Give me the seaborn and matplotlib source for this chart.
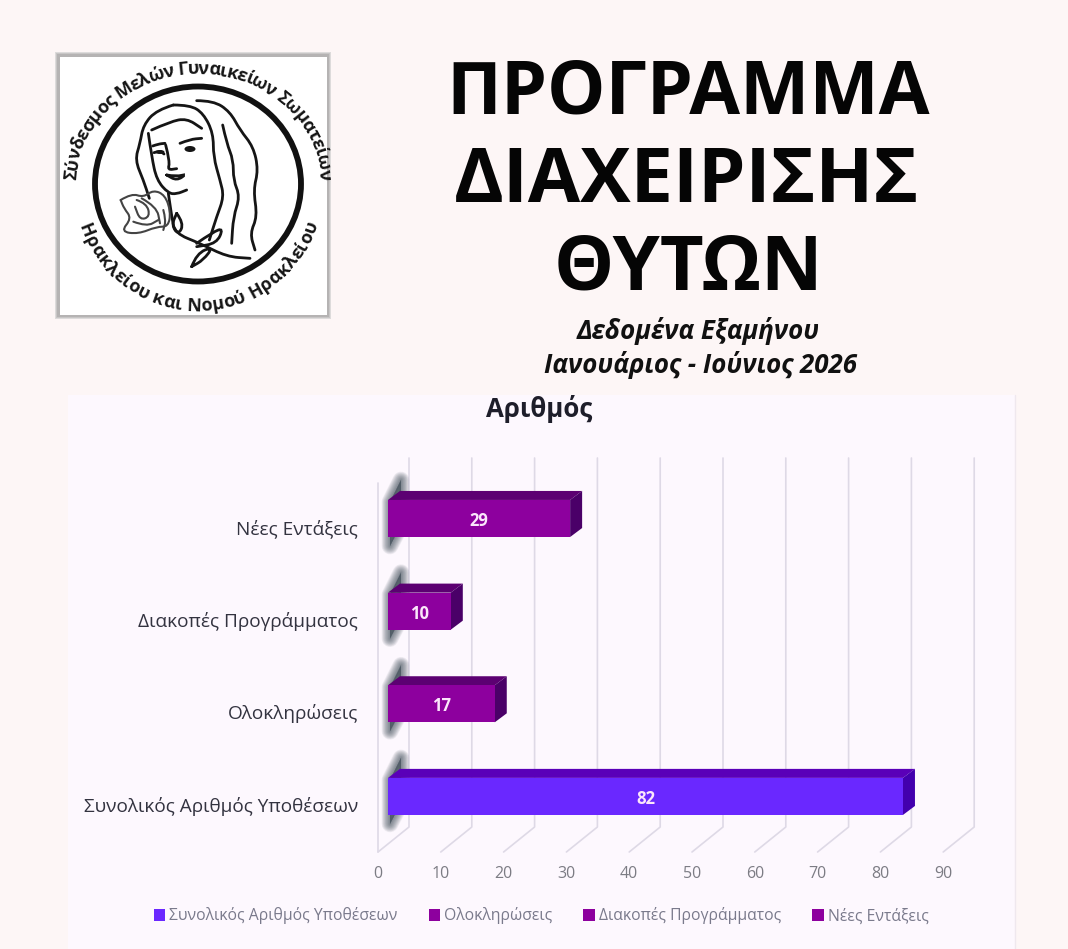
import matplotlib
matplotlib.use("Agg")
import numpy as np
import pandas as pd
import seaborn as sns
import matplotlib.pyplot as plt
from matplotlib.path import Path
from matplotlib.patches import PathPatch, Polygon, Rectangle, Ellipse, Patch
from matplotlib.font_manager import FontProperties
from matplotlib.textpath import TextToPath
from matplotlib.transforms import Affine2D

# Chart data
categories = ["Νέες Εντάξεις", "Διακοπές Προγράμματος", "Ολοκληρώσεις", "Συνολικός Αριθμός Υποθέσεων"]
values = [29, 10, 17, 82]
front_colors = ["#8D009E", "#8D009E", "#8D009E", "#6A28FF"]
top_colors = ["#5C0072", "#5C0072", "#5C0072", "#5A00B8"]
side_colors = ["#4A0068", "#4A0068", "#4A0068", "#4300AE"]
legend_order = ["Συνολικός Αριθμός Υποθέσεων", "Ολοκληρώσεις", "Διακοπές Προγράμματος", "Νέες Εντάξεις"]
x_ticks = [0, 10, 20, 30, 40, 50, 60, 70, 80, 90]
title_lines = ["ΠΡΟΓΡΑΜΜΑ", "ΔΙΑΧΕΙΡΙΣΗΣ", "ΘΥΤΩΝ"]
subtitle_lines = ["Δεδομένα Εξαμήνου", "Ιανουάριος - Ιούνιος 2026"]
chart_title = "Αριθμός"
ring_top = "Σύνδεσμος Μελών Γυναικείων Σωματείων"
ring_bottom = "Ηρακλείου και Νομού Ηρακλείου"

W, H = 1068, 949
PAGE = "#FDF6F6"
PANEL = "#FDF8FE"
GRID = "#DED9E6"

sns.set_theme(style="white")
plt.rcParams["font.family"] = ["Open Sans", "DejaVu Sans"]

fig = plt.figure(figsize=(W / 100, H / 100), dpi=100, facecolor=PAGE)

# Full-page layer in pixel units for the header, logo and panel
bg = fig.add_axes([0, 0, 1, 1], zorder=0)
bg.set_xlim(0, W)
bg.set_ylim(H, 0)
bg.axis("off")
bg.add_patch(Rectangle((68, 395), 947, 554, fc=PANEL, ec="none"))
bg.plot([1015, 1015], [395, 949], color="#EFE8EE", lw=1)

for line, cx, cy, size in zip(title_lines, [688, 686, 688], [94, 182, 270], [53, 54.5, 54.5]):
    bg.text(cx, cy, line, fontsize=size, fontweight="bold", color="#050505", ha="center", va="center")
for line, cx, cy in zip(subtitle_lines, [698, 701], [331, 365]):
    bg.text(cx, cy, line, fontsize=18.6, fontweight="bold", fontstyle="italic",
            color="#111111", ha="center", va="center")
bg.text(539, 409, chart_title, fontsize=18.6, fontweight="bold", color="#1E1E2A", ha="center", va="center")

# Logo card with a soft edge
for pad, shade in ((3, "#DDDBDB"), (2, "#C8C6C6"), (1, "#B5B3B3")):
    bg.add_patch(Rectangle((58 - pad, 55 - pad), 270 + 2 * pad, 261 + 2 * pad, fc=shade, ec="none"))
bg.add_patch(Rectangle((60, 57), 267, 258, fc="white", ec="none"))
LOGO_CX, LOGO_CY = 198, 184
bg.add_patch(Ellipse((LOGO_CX, LOGO_CY), 206, 195, fc="none", ec="#111111", lw=4.2))


def smooth(points, lw=2.0, color="#151515"):
    """Stroke a rounded curve through points given in logo sketch units."""
    pts = [(x / 3, y / 3 + 30) for x, y in points]
    verts, codes = [pts[0]], [Path.MOVETO]
    for a, b in zip(pts[1:-1], pts[2:]):
        verts += [a, ((a[0] + b[0]) / 2, (a[1] + b[1]) / 2)]
        codes += [Path.CURVE3, Path.CURVE3]
    verts.append(pts[-1])
    codes.append(Path.LINETO)
    bg.add_patch(PathPatch(Path(verts, codes), fc="none", ec=color, lw=lw, capstyle="round"))


# Portrait line work
strokes = [
    [(520, 225), (470, 240), (430, 285), (420, 340), (405, 390), (430, 450), (448, 505)],
    [(520, 225), (570, 225), (610, 250), (640, 310), (640, 380), (660, 450), (672, 500), (650, 560), (628, 630)],
    [(590, 212), (640, 212), (690, 245), (720, 300), (760, 350), (775, 420), (760, 480), (772, 560), (750, 610), (765, 660)],
    [(668, 285), (680, 340), (700, 390), (700, 450), (720, 500), (700, 560), (695, 640)],
    [(455, 300), (510, 275), (560, 265), (605, 295)],
    [(445, 310), (455, 380), (470, 450), (505, 490), (530, 492), (560, 480)],
    [(540, 340), (570, 328), (605, 325)],
    [(458, 348), (475, 342), (495, 340)],
    [(462, 368), (480, 362), (492, 372)],
    [(497, 345), (510, 395), (503, 420), (530, 416)],
    [(500, 435), (530, 440), (560, 432), (530, 452), (500, 435)],
    [(505, 490), (515, 560), (525, 610), (600, 640), (680, 680), (750, 685)],
    [(590, 640), (640, 605), (670, 595), (650, 640), (590, 650)],
    [(575, 710), (590, 670), (640, 650), (610, 690), (575, 710)],
    [(530, 550), (552, 580), (535, 615), (515, 585), (530, 550)],
]
for stroke in strokes:
    smooth(stroke)
bg.add_patch(Ellipse((190, 149), 11, 6, fc="#151515", ec="none"))
bg.add_patch(Ellipse((160, 152), 9, 4, fc="#151515", ec="none"))

# The rose is drawn in a lighter, thinner line
rose = [
    [(362, 510), (395, 490), (430, 502), (460, 480), (495, 495), (512, 545), (505, 590), (470, 590), (415, 612), (362, 605), (395, 565), (372, 535), (362, 510)],
    [(410, 510), (440, 520), (450, 560), (420, 570), (405, 530)],
    [(425, 505), (470, 530), (480, 580)],
    [(400, 575), (440, 590), (475, 570)],
    [(490, 540), (498, 570), (490, 600)],
]
for stroke in rose:
    smooth(stroke, lw=1.5, color="#444444")

ring_font = FontProperties(family="Open Sans", size=13.0, weight="bold")
measure = TextToPath()


def text_on_ellipse(text, a, b, start, end):
    """Place text letter by letter along an ellipse between two angles (degrees, y down)."""
    ang = np.radians(np.linspace(start, end, 2000))
    xs, ys = LOGO_CX + a * np.cos(ang), LOGO_CY + b * np.sin(ang)
    arc = np.r_[0, np.cumsum(np.hypot(np.diff(xs), np.diff(ys)))]
    widths = [measure.get_text_width_height_descent(text[:i], ring_font, False)[0] for i in range(len(text) + 1)]
    scale = arc[-1] / (widths[-1] * 100 / 72)
    for i, ch in enumerate(text):
        mid = (widths[i] + widths[i + 1]) / 2 * 100 / 72 * scale
        k = np.searchsorted(arc, mid)
        k = min(max(k, 1), len(xs) - 1)
        angle = np.degrees(np.arctan2(-(ys[k] - ys[k - 1]), xs[k] - xs[k - 1]))
        bg.text(xs[k], ys[k], ch, fontproperties=ring_font, color="#151515", rotation=angle,
                rotation_mode="anchor", ha="center", va="baseline")


text_on_ellipse(ring_top, 122, 110, 182, 358)
text_on_ellipse(ring_bottom, 126, 127, 161, 18)

# Bar chart: axis spans the front plane from 0 to 90
PX_PER_UNIT = 6.28
PX_PER_CAT = 92.67
ax = fig.add_axes([378 / W, 1 - 852 / H, 565.2 / W, (852 - 483) / H], zorder=1)
ax.patch.set_alpha(0)

df = pd.DataFrame({"category": categories, "value": values})
sns.barplot(data=df, y="category", x="value", hue="category", palette=front_colors,
            hue_order=categories, order=categories, orient="h", width=0.4, dodge=False,
            saturation=1, legend=False, linewidth=0, ax=ax, zorder=5)
ax.set_xlim(0, 90)
ax.set_ylim(3.6, -0.383)
ax.set_xlabel("")
ax.set_ylabel("")
ax.set_xticks(x_ticks)
sns.despine(ax=ax, left=True, bottom=True)
ax.tick_params(axis="x", length=0, pad=10, labelsize=11.5, labelcolor="#7C7C84")
ax.tick_params(axis="y", length=0, pad=14.5, labelsize=13.7, labelcolor="#333340")
for lab in ax.get_yticklabels():
    lab.set_transform(lab.get_transform() + Affine2D().translate(0, -8))

# Receding walls and floor of the 3D frame
back_dx, back_dy = 31 / PX_PER_UNIT, 25 / PX_PER_CAT
ybottom, ytop = 3.6, -0.383
ax.plot([0, 0], [ybottom, ytop], color=GRID, lw=1.2, clip_on=False, zorder=1)
for t in x_ticks:
    ax.plot([t, t + back_dx, t + back_dx],
            [ybottom, ybottom - back_dy, ytop - back_dy],
            color=GRID, lw=1.2, clip_on=False, zorder=1)

# Extrude each bar into a box and lift it off the wall
shift = 10 / PX_PER_UNIT
dep_x, dep_y = 12 / PX_PER_UNIT, 9 / PX_PER_CAT
bars = sorted(ax.patches, key=lambda p: p.get_y())
for bar, val, top_c, side_c in zip(bars, values, top_colors, side_colors):
    bar.set_x(shift)
    y0 = bar.get_y()
    y1 = y0 + bar.get_height()
    x1 = shift + val
    shadow = [(shift + 2 / PX_PER_UNIT, y0 + 2 / PX_PER_CAT), (shift + 13 / PX_PER_UNIT, y0 - 20 / PX_PER_CAT),
              (shift + 13 / PX_PER_UNIT, y1 - 12 / PX_PER_CAT), (shift + 2 / PX_PER_UNIT, y1 + 9 / PX_PER_CAT)]
    for lw in np.arange(1, 13, 1.0):
        ax.add_patch(Polygon(shadow, closed=True, fc="#34434E", ec="#34434E", lw=lw, alpha=0.07,
                             clip_on=False, zorder=3, joinstyle="round"))
    ax.add_patch(Polygon([(shift, y0), (shift + dep_x, y0 - dep_y), (x1 + dep_x, y0 - dep_y), (x1, y0)],
                         closed=True, fc=top_c, ec="none", clip_on=False, zorder=4))
    ax.add_patch(Polygon([(x1, y0), (x1 + dep_x, y0 - dep_y), (x1 + dep_x, y1 - dep_y), (x1, y1)],
                         closed=True, fc=side_c, ec="none", clip_on=False, zorder=4))
    ax.text(shift + val / 2, (y0 + y1) / 2 + 2.5 / PX_PER_CAT, str(val), color="#FBE6FB", fontsize=12,
            fontweight="bold", ha="center", va="center", zorder=6)

color_by_name = dict(zip(categories, front_colors))
handles = [Patch(fc=color_by_name[name], ec="none", label=name) for name in legend_order]
fig.legend(handles=handles, loc="center", bbox_to_anchor=(541 / W, 1 - 916 / H), ncol=4, frameon=False,
           fontsize=11.3, labelcolor="#7A7A8C", handlelength=0.72, handleheight=0.72,
           handletextpad=0.25, columnspacing=2.0)

fig.savefig("out.png", dpi=100, facecolor=PAGE)
